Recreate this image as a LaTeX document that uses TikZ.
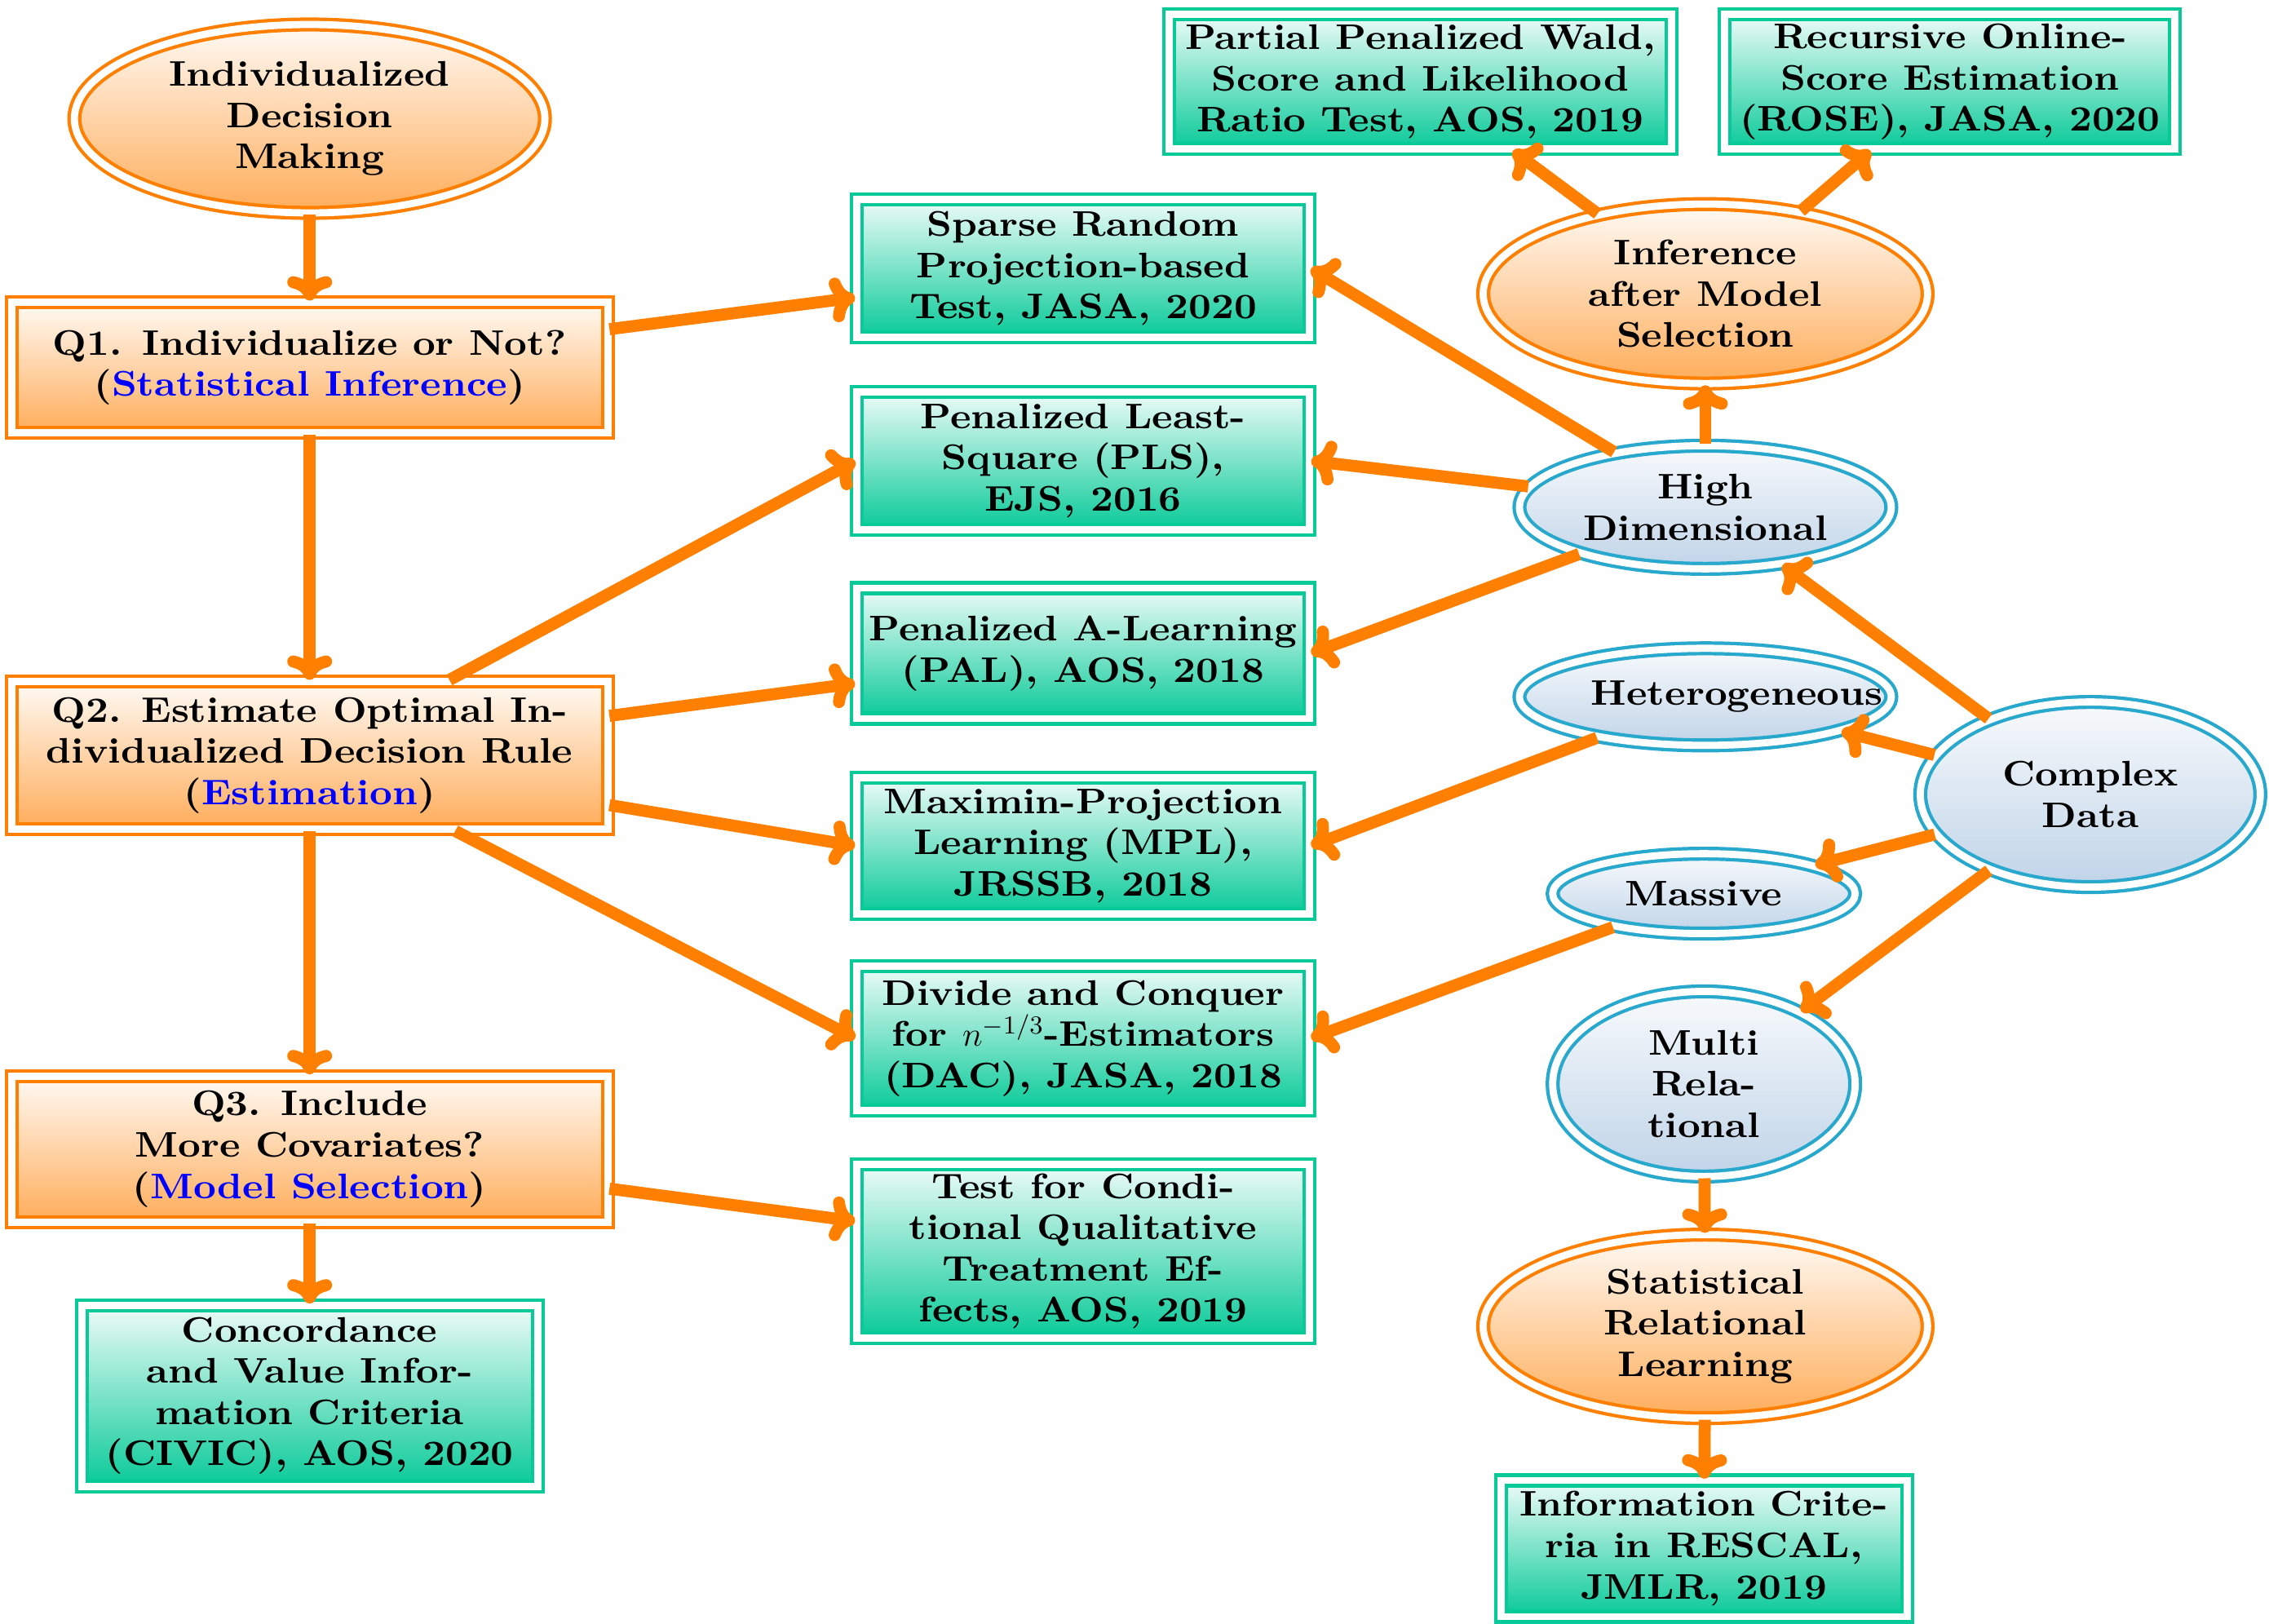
\documentclass[tikz,border=0pt]{standalone}
\usepackage{fontspec}
\setmainfont{lmroman10-regular.otf}[BoldFont=lmroman10-bold.otf,FakeStretch=1.11]
\usetikzlibrary{shapes.geometric,positioning,shadows,arrows.meta}

\definecolor{qorange}{RGB}{255,128,0}
\definecolor{pgreen}{RGB}{8,202,152}
\definecolor{dblue}{RGB}{40,168,205}
\definecolor{dfill}{RGB}{192,212,232}

\begin{document}
\begin{tikzpicture}[x=0.01774cm,y=-0.01774cm,node distance=2.36cm,on grid,
  >={Computer Modern Rightarrow[length=3mm,width=5.5mm]},
  font=\fontsize{12.4}{14.4}\selectfont\bfseries,
  rim/.style={double=white,double distance=2.5pt,line width=1.2pt,align=center},
  question/.style={rim,rectangle,draw=qorange,top color=qorange!4,bottom color=qorange!65,
    inner sep=2pt,minimum width=7.31cm},
  paper/.style={rim,rectangle,draw=pgreen,top color=pgreen!7,bottom color=pgreen,
    inner sep=2pt,minimum width=5.55cm},
  goal/.style={rim,ellipse,draw=qorange,top color=qorange!4,bottom color=qorange!65,
    inner sep=1pt,minimum width=5.45cm,
    drop shadow={opacity=0.25,shadow xshift=1.5pt,shadow yshift=-1.5pt}},
  data/.style={rim,ellipse,draw=dblue,top color=dfill!12,bottom color=dfill,
    inner sep=1pt,minimum width=4.56cm,
    drop shadow={opacity=0.25,shadow xshift=1.5pt,shadow yshift=-1.5pt}},
  link/.style={->,qorange,line width=4.2pt}]
  \useasboundingbox (0,0) rectangle (1568,1122);

  % left column: the three questions
  \node[goal,minimum width=5.77cm,minimum height=2.31cm] (idm) at (214,82) {Individualized\\Decision\\Making};
  \node[question,minimum height=1.60cm] (q_1) at (214,254) {Q1. Individualize or Not?\\(\textcolor{blue}{Statistical Inference})};
  \node[question,minimum height=1.81cm] (q_2) at (214,522) {Q2. Estimate Optimal In-\\dividualized Decision Rule\\(\textcolor{blue}{Estimation})};
  \node[question,minimum height=1.79cm] (q_3) at (214,794) {Q3. Include\\More Covariates?\\(\textcolor{blue}{Model Selection})};
  \node[paper,minimum width=5.59cm,minimum height=2.22cm] (civic) at (214,964.5) {Concordance\\and Value Infor-\\mation Criteria\\(CIVIC), AOS, 2020};

  % middle column: papers
  \node[paper,minimum height=1.69cm] (srp) at (748.5,185.5) {Sparse Random\\Projection-based\\Test, JASA, 2020};
  \node[paper,minimum height=1.69cm] (pls) [below=of srp] {Penalized Least-\\Square (PLS),\\EJS, 2016};
  \node[paper,minimum height=1.60cm] (pal) [below=of pls] {Penalized A-Learning\\(PAL), AOS, 2018};
  \node[paper,minimum height=1.67cm] (mpl) [below=of pal] {Maximin-Projection\\Learning (MPL),\\JRSSB, 2018};
  \node[paper,minimum height=1.77cm] (dac) [below=of mpl] {Divide and Conquer\\for $n^{-1/3}$-Estimators\\(DAC), JASA, 2018};
  \node[paper,minimum height=2.13cm] (tcq) [below=2.61cm of dac] {Test for Condi-\\tional Qualitative\\Treatment Ef-\\fects, AOS, 2019};

  % right column: complex data
  \node[paper,minimum width=6.16cm,minimum height=1.65cm] (ppt) at (981.5,56.5) {Partial Penalized Wald,\\Score and Likelihood\\Ratio Test, AOS, 2019};
  \node[paper,minimum width=5.52cm,minimum height=1.65cm] (rose) at (1347.5,56.5) {Recursive Online-\\Score Estimation\\(ROSE), JASA, 2020};
  \node[goal,minimum height=2.20cm] (iams) at (1178.5,203) {Inference\\after Model\\Selection};
  \node[data,minimum height=1.51cm] (hd) at (1178.5,350.5) {High\\Dimensional};
  \node[data,minimum height=1.19cm,text width=2.8cm] (het) at (1178.5,481.5) {Heterogeneous};
  \node[data,minimum width=4.17cm,minimum height=2.27cm] (cd) at (1444.5,549) {Complex\\Data};
  \node[data,minimum width=3.71cm,minimum height=0.98cm] (mas) at (1177.5,617.5) {Massive};
  \node[data,minimum width=3.71cm,minimum height=2.27cm] (mr) at (1177.5,749) {Multi\\Rela-\\tional};
  \node[goal,minimum height=2.25cm] (srl) at (1178.5,916.5) {Statistical\\Relational\\Learning};
  \node[paper,minimum width=4.98cm,minimum height=1.67cm] (ic) at (1177.5,1070) {Information Crite-\\ria in RESCAL,\\JMLR, 2019};

  \path[link] (idm) edge (q_1)
  (q_1) edge (q_2)
  (q_2) edge (q_3)
  (q_3) edge (civic)
  (q_1) edge (srp)
  (q_2) edge (pls.west)
  (q_2) edge (pal)
  (q_2) edge (mpl.west)
  (q_2) edge (dac.west)
  (q_3) edge (tcq)
  (hd) edge (srp.east)
  (hd) edge (pls.east)
  (hd) edge (pal.east)
  (hd) edge (iams)
  (iams) edge (ppt)
  (iams) edge (rose)
  (het) edge (mpl.east)
  (mas) edge (dac.east)
  (cd) edge (hd)
  (cd) edge (het)
  (cd) edge (mas)
  (cd) edge (mr)
  (mr) edge (srl)
  (srl) edge (ic);
\end{tikzpicture}
\end{document}
